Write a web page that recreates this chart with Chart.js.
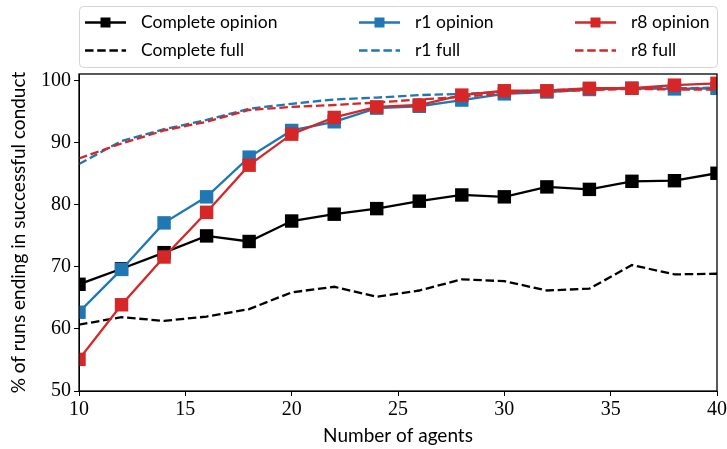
<!DOCTYPE html>
<html>
<head>
<meta charset="utf-8">
<script src="https://cdn.jsdelivr.net/npm/chart.js@4.4.1/dist/chart.umd.min.js"></script>
<style>
  html, body { margin: 0; padding: 0; background: #fff; }
  #wrap { width: 727px; height: 449px; }
</style>
</head>
<body>
<div id="wrap"><canvas id="chart" width="727" height="449"></canvas></div>
<script>
// data
var agents = [10, 12, 14, 16, 18, 20, 22, 24, 26, 28, 30, 32, 34, 36, 38, 40];
var completeOpinion = [67.2, 69.7, 72.3, 75.0, 74.1, 77.4, 78.5, 79.4, 80.6, 81.6, 81.3, 82.9, 82.5, 83.8, 83.9, 85.1];
var completeFull    = [60.7, 61.9, 61.3, 62.0, 63.2, 65.9, 66.8, 65.2, 66.2, 68.0, 67.7, 66.2, 66.5, 70.3, 68.8, 68.9];
var r1Opinion = [62.7, 69.6, 77.1, 81.3, 87.7, 92.0, 93.4, 95.6, 95.9, 96.9, 97.9, 98.2, 98.6, 98.8, 98.7, 98.8];
var r1Full    = [86.6, 90.3, 92.2, 93.7, 95.5, 96.3, 97.0, 97.3, 97.7, 97.9, 98.2, 98.5, 98.7, 98.9, 98.8, 98.9];
var r8Opinion = [55.1, 63.9, 71.6, 78.8, 86.4, 91.4, 94.1, 95.8, 96.1, 97.7, 98.4, 98.4, 98.8, 98.8, 99.3, 99.6];
var r8Full    = [87.5, 89.9, 92.0, 93.4, 95.3, 95.8, 96.1, 96.5, 97.0, 97.4, 98.0, 98.3, 98.5, 98.7, 98.6, 98.6];
var yTicks = [50, 60, 70, 80, 90, 100];

var BLACK = '#000000', BLUE = '#1f77b4', RED = '#d62728';
var tickFont = { family: '"Liberation Serif", serif', size: 20 };
var titleFont = { family: 'Lato, sans-serif', size: 19 };
var legendFont = { family: 'Lato, sans-serif', size: 17.5 };

function pts(ys) {
    return agents.map(function (x, i) { return { x: x, y: ys[i] }; });
}

function opinionSet(label, ys, color, order) {
    return {
        label: label, data: pts(ys), borderColor: color, backgroundColor: color,
        borderWidth: 2.3, pointStyle: 'rect', pointRadius: 9.5, pointHoverRadius: 9.5,
        pointBorderWidth: 0, order: order
    };
}

function fullSet(label, ys, color, order) {
    return {
        label: label, data: pts(ys), borderColor: color, backgroundColor: color,
        borderWidth: 2.3, borderDash: [8.5, 3.7], pointRadius: 0, order: order
    };
}

// legend drawn inside the canvas, 3 columns x 2 rows like the original
var legendBox = {
    id: 'legendBox',
    afterDraw: function (chart) {
        var ctx = chart.ctx;
        var ds = chart.data.datasets;
        ctx.save();
        ctx.beginPath();
        ctx.roundRect(79.5, 6.5, 638, 61, 4);
        ctx.fillStyle = 'rgba(255,255,255,0.8)';
        ctx.fill();
        ctx.strokeStyle = '#d4d4d4';
        ctx.lineWidth = 1;
        ctx.stroke();
        var colX = [85, 359, 575];
        var rowY = [22.5, 50.5];
        ds.forEach(function (d, i) {
            var x0 = colX[Math.floor(i / 2)], y = rowY[i % 2];
            ctx.strokeStyle = d.borderColor;
            ctx.lineWidth = 2.3;
            ctx.setLineDash(d.borderDash || []);
            ctx.beginPath();
            ctx.moveTo(x0, y);
            ctx.lineTo(x0 + 41, y);
            ctx.stroke();
            ctx.setLineDash([]);
            if (d.pointRadius > 0) {
                ctx.fillStyle = d.backgroundColor;
                ctx.fillRect(x0 + 20.5 - 5, y - 5, 10, 10);
            }
            ctx.fillStyle = '#000';
            ctx.font = legendFont.size + 'px ' + legendFont.family;
            ctx.textBaseline = 'middle';
            ctx.fillText(d.label, x0 + 56, y);
        });
        ctx.restore();
    }
};

// full box around the plot area
var frame = {
    id: 'frame',
    afterDatasetsDraw: function (chart) {
        var a = chart.chartArea, ctx = chart.ctx;
        ctx.save();
        ctx.strokeStyle = '#000';
        ctx.lineWidth = 1.3;
        ctx.strokeRect(a.left, a.top, a.right - a.left, a.bottom - a.top);
        ctx.restore();
    }
};

new Chart(document.getElementById('chart'), {
    type: 'line',
    data: {
        datasets: [
            opinionSet('Complete opinion', completeOpinion, BLACK, 6),
            fullSet('Complete full', completeFull, BLACK, 5),
            opinionSet('r1 opinion', r1Opinion, BLUE, 4),
            fullSet('r1 full', r1Full, BLUE, 3),
            opinionSet('r8 opinion', r8Opinion, RED, 2),
            fullSet('r8 full', r8Full, RED, 1)
        ]
    },
    options: {
        responsive: false,
        animation: false,
        events: [],
        layout: { padding: { top: 74, right: 10, left: 0, bottom: 0 } },
        plugins: { legend: { display: false }, tooltip: { enabled: false } },
        scales: {
            x: {
                type: 'linear', min: 10, max: 40,
                ticks: { stepSize: 5, color: '#000', font: tickFont, padding: 2, maxRotation: 0 },
                grid: { drawOnChartArea: false, drawTicks: true, tickLength: 5, color: '#000' },
                border: { color: '#000' },
                title: { display: true, text: 'Number of agents', color: '#000', font: titleFont, padding: { top: 0, bottom: 2 } },
                afterFit: function (s) { s.height = 58; s.paddingLeft = 0; s.paddingRight = 0; }
            },
            y: {
                type: 'linear', min: 50, max: 101.1,
                afterBuildTicks: function (s) { s.ticks = yTicks.map(function (v) { return { value: v }; }); },
                ticks: { color: '#000', font: tickFont, padding: 3 },
                grid: { drawOnChartArea: false, drawTicks: true, tickLength: 5, color: '#000' },
                border: { color: '#000' },
                title: { display: true, text: '% of runs ending in successful conduct', color: '#000', font: titleFont, padding: { top: 7, bottom: 0 } },
                afterFit: function (s) { s.width = 79; }
            }
        }
    },
    plugins: [frame, legendBox]
});
</script>
</body>
</html>
